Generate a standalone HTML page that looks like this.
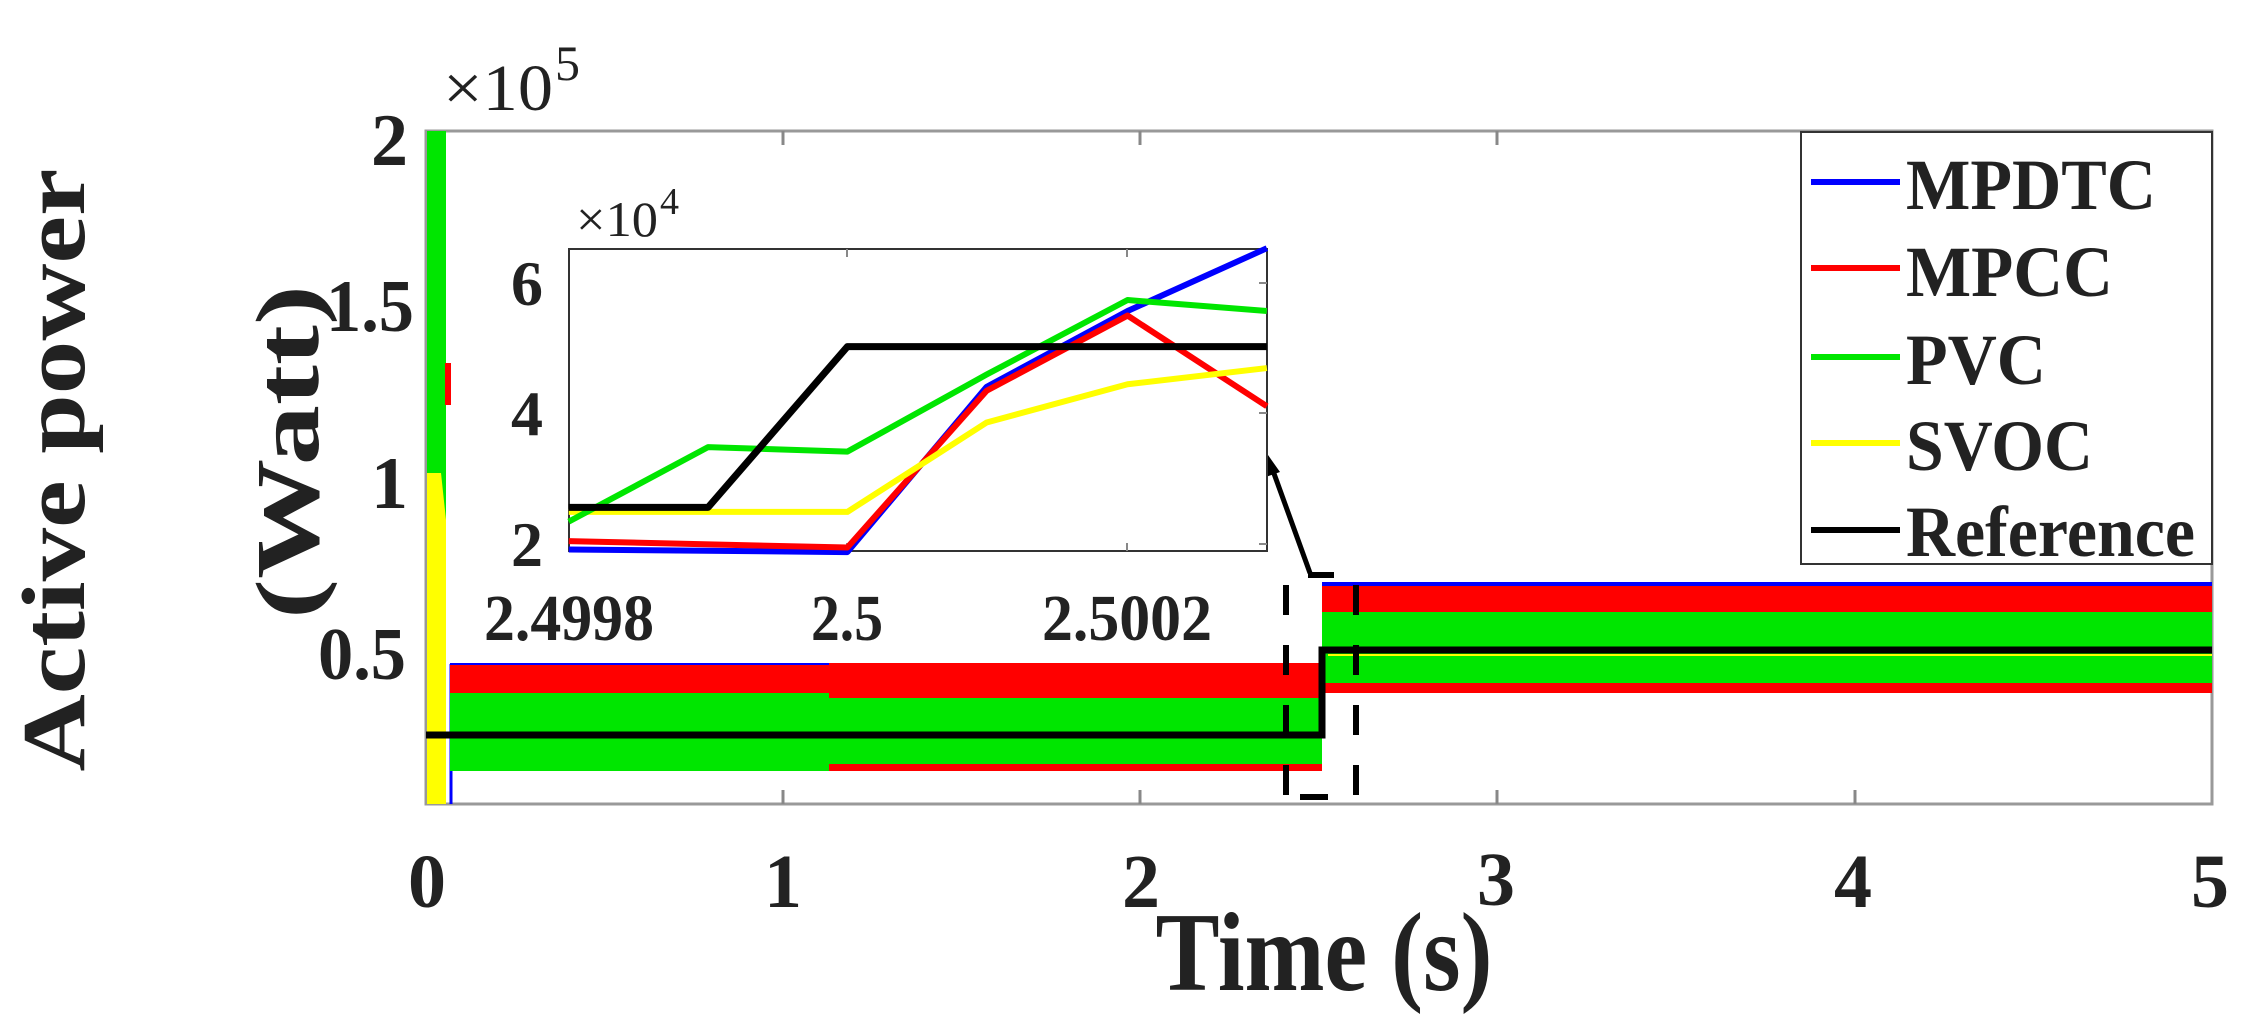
<!DOCTYPE html>
<html><head><meta charset="utf-8"><style>
html,body{margin:0;padding:0;background:#fff;}
svg{display:block;}
text{font-family:"Liberation Serif",serif;font-weight:bold;fill:#222;}
</style></head><body>
<svg width="2256" height="1016" viewBox="0 0 2256 1016" xmlns="http://www.w3.org/2000/svg">
<rect x="426" y="131" width="1786" height="673" fill="none" stroke="#999" stroke-width="3"/>
<g stroke="#888" stroke-width="3">
<line x1="783" y1="131" x2="783" y2="145"/><line x1="1140" y1="131" x2="1140" y2="145"/><line x1="1497" y1="131" x2="1497" y2="145"/><line x1="1855" y1="131" x2="1855" y2="145"/>
<line x1="783" y1="804" x2="783" y2="790"/><line x1="1140" y1="804" x2="1140" y2="790"/><line x1="1497" y1="804" x2="1497" y2="790"/><line x1="1855" y1="804" x2="1855" y2="790"/>
</g>
<rect x="427" y="131" width="19" height="673" fill="#00e600"/>
<polygon points="427,473 441,473 446,520 446,804 427,804" fill="#ffff00"/>
<rect x="445" y="363" width="6" height="42" fill="#ff0000"/>
<line x1="451" y1="664" x2="451" y2="804" stroke="#0000ff" stroke-width="3"/>
<rect x="450" y="663" width="872" height="108" fill="#ff0000"/>
<line x1="450" y1="664" x2="829" y2="664" stroke="#0000ff" stroke-width="2"/>
<rect x="450" y="693" width="379" height="78" fill="#00e600"/>
<rect x="829" y="698" width="493" height="66" fill="#00e600"/>
<rect x="1322" y="582" width="890" height="4" fill="#0000ff"/>
<rect x="1322" y="586" width="890" height="107" fill="#ff0000"/>
<rect x="1322" y="612" width="890" height="71" fill="#00e600"/>
<line x1="1328" y1="655" x2="2212" y2="655" stroke="#ffff00" stroke-width="2"/>
<polyline points="426,735 1322,735 1322,650 2212,650" fill="none" stroke="#000" stroke-width="7"/>
<g stroke="#000" stroke-width="6" stroke-dasharray="30,30">
<line x1="1286" y1="585" x2="1286" y2="797"/><line x1="1356" y1="585" x2="1356" y2="797"/>
</g>
<line x1="1308" y1="575" x2="1334" y2="575" stroke="#000" stroke-width="6"/>
<line x1="1300" y1="797" x2="1328" y2="797" stroke="#000" stroke-width="6"/>
<line x1="1310" y1="573" x2="1272" y2="468" stroke="#000" stroke-width="5"/>
<polygon points="1268,455 1263,478 1280,472" fill="#000"/>
<g>
<rect x="569" y="249" width="698" height="302" fill="#fff" stroke="#333" stroke-width="2"/>
<g stroke="#888" stroke-width="2">
<line x1="847" y1="249" x2="847" y2="257"/><line x1="1127" y1="249" x2="1127" y2="257"/>
<line x1="847" y1="551" x2="847" y2="543"/><line x1="1127" y1="551" x2="1127" y2="543"/>
<line x1="1267" y1="283" x2="1259" y2="283"/><line x1="1267" y1="413" x2="1259" y2="413"/><line x1="1267" y1="544" x2="1259" y2="544"/>
</g>
<g transform="scale(0.8291,0.648)" fill="none" stroke-width="6" stroke-linejoin="round">
<polyline vector-effect="non-scaling-stroke" stroke="#0000ff" points="686,848 1022,852 1190,597 1360,480 1528,383"/>
<polyline vector-effect="non-scaling-stroke" stroke="#ff0000" points="686,835 1022,845 1190,603 1360,487 1528,627"/>
<polyline vector-effect="non-scaling-stroke" stroke="#ffff00" points="686,790 1022,790 1190,652 1360,593 1528,568"/>
<polyline vector-effect="non-scaling-stroke" stroke="#00e600" points="686,805 854,690 1022,697 1190,578 1360,463 1528,480"/>
<polyline vector-effect="non-scaling-stroke" stroke="#000" stroke-width="7" points="686,783 854,783 1022,535 1528,535"/>
</g>
<text x="543" y="305" font-size="64" text-anchor="end">6</text>
<text x="543" y="435" font-size="64" text-anchor="end">4</text>
<text x="543" y="566" font-size="64" text-anchor="end">2</text>
<text x="569" y="640" font-size="66" text-anchor="middle" textLength="170" lengthAdjust="spacingAndGlyphs">2.4998</text>
<text x="847" y="640" font-size="66" text-anchor="middle" textLength="72" lengthAdjust="spacingAndGlyphs">2.5</text>
<text x="1127" y="640" font-size="66" text-anchor="middle" textLength="170" lengthAdjust="spacingAndGlyphs">2.5002</text>
<text x="576" y="236" font-size="50" style="font-weight:normal" textLength="82" lengthAdjust="spacingAndGlyphs">×10</text>
<text x="660" y="214" font-size="38" style="font-weight:normal">4</text>
</g>
<rect x="1801" y="132" width="411" height="432" fill="#fff" stroke="#333" stroke-width="2"/>
<g stroke-width="6">
<line x1="1811" y1="182" x2="1900" y2="182" stroke="#0000ff"/>
<line x1="1811" y1="268" x2="1900" y2="268" stroke="#ff0000"/>
<line x1="1811" y1="357" x2="1900" y2="357" stroke="#00e600"/>
<line x1="1811" y1="443" x2="1900" y2="443" stroke="#ffff00"/>
<line x1="1811" y1="530" x2="1900" y2="530" stroke="#000"/>
</g>
<g font-size="72">
<text x="1906" y="209" textLength="250" lengthAdjust="spacingAndGlyphs">MPDTC</text>
<text x="1906" y="296" textLength="207" lengthAdjust="spacingAndGlyphs">MPCC</text>
<text x="1906" y="384" textLength="140" lengthAdjust="spacingAndGlyphs">PVC</text>
<text x="1906" y="470" textLength="187" lengthAdjust="spacingAndGlyphs">SVOC</text>
<text x="1906" y="556" textLength="289" lengthAdjust="spacingAndGlyphs">Reference</text>
</g>
<g font-size="74" text-anchor="end">
<text x="408" y="165">2</text>
<text x="414" y="331" textLength="88" lengthAdjust="spacingAndGlyphs">1.5</text>
<text x="408" y="508">1</text>
<text x="406" y="679" textLength="88" lengthAdjust="spacingAndGlyphs">0.5</text>
</g>
<text x="443" y="110" font-size="66" style="font-weight:normal" textLength="110" lengthAdjust="spacingAndGlyphs">×10</text>
<text x="555" y="80" font-size="50" style="font-weight:normal">5</text>
<g font-size="76" text-anchor="middle">
<text x="427" y="907">0</text>
<text x="783" y="907">1</text>
<text x="1141" y="907">2</text>
<text x="1496" y="905">3</text>
<text x="1853" y="907">4</text>
<text x="2210" y="907">5</text>
</g>
<text x="1324" y="990" font-size="112" text-anchor="middle" textLength="337" lengthAdjust="spacingAndGlyphs">Time (s)</text>
<text transform="translate(84,470) rotate(-90)" font-size="90" text-anchor="middle" textLength="603" lengthAdjust="spacingAndGlyphs">Active power</text>
<text transform="translate(318,452) rotate(-90)" font-size="90" text-anchor="middle" textLength="334" lengthAdjust="spacingAndGlyphs">(Watt)</text>
</svg>
</body></html>
